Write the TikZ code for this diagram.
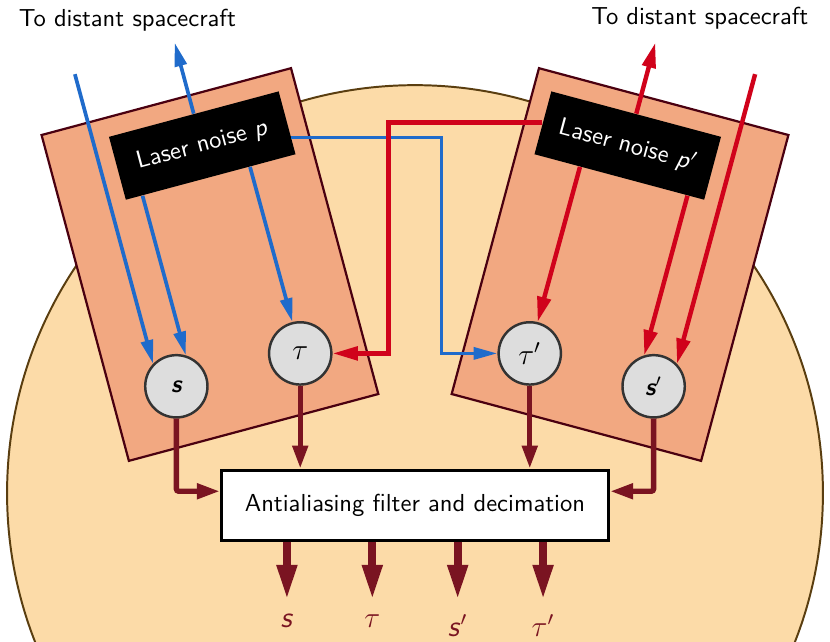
\documentclass[tikz,border=0pt]{standalone}
\usepackage{xcolor}
\usepackage{tikz}
\usepackage{amsmath,amssymb}
\usetikzlibrary{arrows.meta, positioning, calc}
\definecolor{craftbg}{HTML}{FCDBA8}
\definecolor{craftrim}{HTML}{5A3E10}
\definecolor{benchsalmon}{HTML}{F2A881}
\definecolor{benchrim}{HTML}{4A0010}
\definecolor{beamblue}{HTML}{1F6BCB}
\definecolor{beamred}{HTML}{D0021B}
\definecolor{signalred}{HTML}{7A1421}
\definecolor{probegray}{HTML}{DDDDDD}
\definecolor{probeedge}{HTML}{333333}
\tikzset{
  barr/.style={-{Triangle[length=3.4mm, width=1.7mm]}, line width=1.5pt, beamblue},
  rarr/.style={-{Triangle[length=3.6mm, width=1.9mm]}, line width=1.8pt, beamred},
  sarr/.style={-{Triangle[length=3.3mm, width=2.1mm]}, line width=2.2pt, signalred, rounded corners=1pt},
  oarr/.style={-{Triangle[length=5mm, width=2.7mm]}, line width=3.2pt, signalred},
  bench/.style={rectangle, draw=benchrim, fill=benchsalmon, line width=0.9pt, minimum width=3.69cm, minimum height=4.82cm},
  laser/.style={rectangle, fill=black, text=white, minimum width=2.51cm, minimum height=0.93cm},
  meas/.style={circle, draw=probeedge, fill=probegray, line width=1pt, minimum size=0.89cm, inner sep=0pt},
}

\begin{document}
\begin{tikzpicture}[font=\sffamily,
    filt/.style={rectangle, draw=black, fill=white, line width=1.2pt, minimum width=5.53cm, minimum height=1cm}]
  \useasboundingbox (-5.93,0) rectangle (5.93,9.16);

  % Spacecraft body
  \draw[craftrim, fill=craftbg, line width=0.8pt] (0,2.114) circle (5.829);

  % Optical benches
  \node[bench, rotate=15] (BA) at (-2.93,5.38) {};
  \node[bench, rotate=-15] (BB) at (2.93,5.38) {};

  % Laser sources
  \node[laser, rotate=15] (LA) at (-3.04,7.08) {Laser noise \textsl{p}};
  \node[laser, rotate=-15] (LB) at (3.04,7.08) {Laser noise \textsl{p}$'$};

  % Measurements
  \node[meas] (SA) at (-3.41,3.64) {\bfseries\slshape s};
  \node[meas] (TA) at (-1.64,4.11) {\large$\tau$};
  \node[meas] (TB) at (1.64,4.11) {\large$\tau'$};
  \node[meas] (SB) at (3.41,3.64) {\bfseries\slshape s$'$};

  % Filter
  \node[filt] (AF) at (0,1.94) {Antialiasing filter and decimation};

  % Beams
  \coordinate (inA) at (-4.86,8.1);
  \coordinate (inB) at (4.86,8.1);
  \draw[barr] (inA) -- (SA.136);
  \draw[barr] (LA.north) -- ++(105:1.05);
  \draw[barr] ($(LA.south west)!0.1!(LA.south east)$) -- (SA.73);
  \draw[barr] ($(LA.south west)!0.73!(LA.south east)$) -- (TA.104);
  \draw[barr] ($(LA.north east)!0.73!(LA.south east)$) -| ($(TB.west)+(-0.8,0)$) -- (TB.west);
  \draw[rarr] (LB.west) -| ($(TA.east)+(0.8,0)$) -- (TA.east);
  \draw[rarr] (LB.north) -- ++(75:1.05);
  \draw[rarr] ($(LB.south west)!0.27!(LB.south east)$) -- (TB.76);
  \draw[rarr] ($(LB.south west)!0.9!(LB.south east)$) -- (SB.107);
  \draw[rarr] (inB) -- (SB.44);

  \node (toA) at (-4.11,8.87) {To distant spacecraft};
  \node (toB) at (4.07,8.9) {To distant spacecraft};

  % Into the filter
  \draw[sarr] (SA.south) |- ($(AF.west)+(0,0.2)$);
  \draw[sarr] (TA.south) -- (TA.south |- AF.north);
  \draw[sarr] (TB.south) -- (TB.south |- AF.north);
  \draw[sarr] (SB.south) |- ($(AF.east)+(0,0.2)$);

  % Outputs
  \foreach \x/\lab [count=\i] in {-1.83/{\textsl{s}}, -0.61/{$\tau$}, 0.61/{\textsl{s}$'$}, 1.83/{$\tau'$}}
    \draw[oarr] ($(AF.south)+(\x,0)$) -- ++(0,-0.83) node[below=1pt, text=signalred, font=\sffamily\large] (O\i) {\lab};
\end{tikzpicture}
\end{document}
